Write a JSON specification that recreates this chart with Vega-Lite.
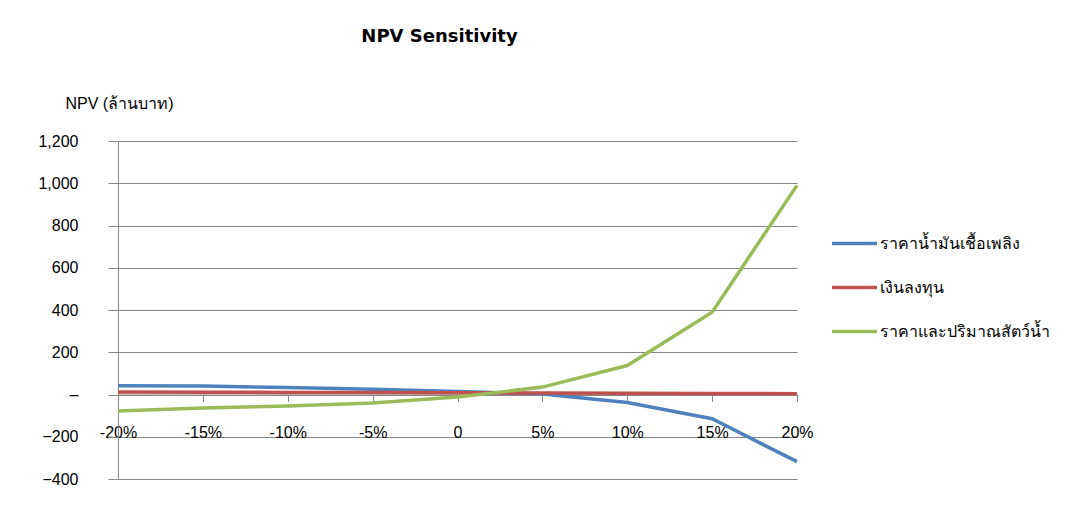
{
  "$schema": "https://vega.github.io/schema/vega-lite/v6.json",
  "autosize": "none",
  "width": 679,
  "height": 338,
  "padding": {"left": 118, "top": 141, "right": 273, "bottom": 28},
  "background": "white",
  "title": {"text": "NPV Sensitivity", "anchor": "middle", "dx": -18, "offset": 49, "font": "DejaVu Sans", "fontSize": 18, "fontWeight": "bold", "color": "black"},
  "config": {"view": {"stroke": null}},
  "data": {"values": [
    {"change": -20, "series": "ราคาน้ำมันเชื้อเพลิง", "npv": 42},
    {"change": -15, "series": "ราคาน้ำมันเชื้อเพลิง", "npv": 40},
    {"change": -10, "series": "ราคาน้ำมันเชื้อเพลิง", "npv": 33},
    {"change": -5, "series": "ราคาน้ำมันเชื้อเพลิง", "npv": 25},
    {"change": 0, "series": "ราคาน้ำมันเชื้อเพลิง", "npv": 14},
    {"change": 5, "series": "ราคาน้ำมันเชื้อเพลิง", "npv": 2},
    {"change": 10, "series": "ราคาน้ำมันเชื้อเพลิง", "npv": -38},
    {"change": 15, "series": "ราคาน้ำมันเชื้อเพลิง", "npv": -115},
    {"change": 20, "series": "ราคาน้ำมันเชื้อเพลิง", "npv": -318},
    {"change": -20, "series": "เงินลงทุน", "npv": 12},
    {"change": -15, "series": "เงินลงทุน", "npv": 11},
    {"change": -10, "series": "เงินลงทุน", "npv": 10},
    {"change": -5, "series": "เงินลงทุน", "npv": 9},
    {"change": 0, "series": "เงินลงทุน", "npv": 8},
    {"change": 5, "series": "เงินลงทุน", "npv": 7},
    {"change": 10, "series": "เงินลงทุน", "npv": 6},
    {"change": 15, "series": "เงินลงทุน", "npv": 5},
    {"change": 20, "series": "เงินลงทุน", "npv": 4},
    {"change": -20, "series": "ราคาและปริมาณสัตว์น้ำ", "npv": -78},
    {"change": -15, "series": "ราคาและปริมาณสัตว์น้ำ", "npv": -64},
    {"change": -10, "series": "ราคาและปริมาณสัตว์น้ำ", "npv": -54},
    {"change": -5, "series": "ราคาและปริมาณสัตว์น้ำ", "npv": -40},
    {"change": 0, "series": "ราคาและปริมาณสัตว์น้ำ", "npv": -12},
    {"change": 5, "series": "ราคาและปริมาณสัตว์น้ำ", "npv": 35},
    {"change": 10, "series": "ราคาและปริมาณสัตว์น้ำ", "npv": 137},
    {"change": 15, "series": "ราคาและปริมาณสัตว์น้ำ", "npv": 390},
    {"change": 20, "series": "ราคาและปริมาณสัตว์น้ำ", "npv": 990}
  ]},
  "mark": {"type": "line", "strokeWidth": 3.5},
  "encoding": {
    "x": {
      "field": "change", "type": "quantitative",
      "scale": {"domain": [-20, 20], "nice": false, "zero": false},
      "axis": {
        "values": [-20, -15, -10, -5, 0, 5, 10, 15, 20],
        "labelExpr": "datum.value == 0 ? '0' : datum.value + '%'",
        "grid": false, "title": null, "offset": -84.5,
        "domainColor": "#868686", "tickColor": "#868686", "tickSize": 7,
        "labelFont": "Liberation Sans", "labelFontSize": 16, "labelColor": "black",
        "labelPadding": 23, "labelOverlap": false, "labelFlush": false
      }
    },
    "y": {
      "field": "npv", "type": "quantitative",
      "scale": {"domain": [-400, 1200], "nice": false},
      "axis": {
        "values": [-400, -200, 0, 200, 400, 600, 800, 1000, 1200],
        "labelExpr": "datum.value == 0 ? '–' : format(datum.value, ',')",
        "grid": true, "gridColor": "#868686", "gridWidth": 1,
        "domainColor": "#868686", "tickColor": "#868686", "tickSize": 10,
        "labelFont": "Liberation Sans", "labelFontSize": 16, "labelColor": "black",
        "labelPadding": 30,
        "title": "NPV (ล้านบาท)", "titleAngle": 0, "titleX": -53, "titleY": -38,
        "titleAlign": "left", "titleBaseline": "middle",
        "titleFont": "Liberation Sans", "titleFontSize": 16, "titleFontWeight": "normal", "titleColor": "black"
      }
    },
    "color": {
      "field": "series", "type": "nominal",
      "scale": {"domain": ["ราคาน้ำมันเชื้อเพลิง", "เงินลงทุน", "ราคาและปริมาณสัตว์น้ำ"], "range": ["#4F81BD", "#C0504D", "#9BBB59"]},
      "legend": {
        "title": null, "orient": "none", "legendX": 712, "legendY": 78, "padding": 0,
        "symbolType": "stroke", "symbolSize": 2025, "symbolStrokeWidth": 3.5,
        "labelFont": "Liberation Sans", "labelFontSize": 16, "labelColor": "black",
        "labelOffset": 1, "rowPadding": 11, "labelLimit": 300
      }
    }
  }
}
